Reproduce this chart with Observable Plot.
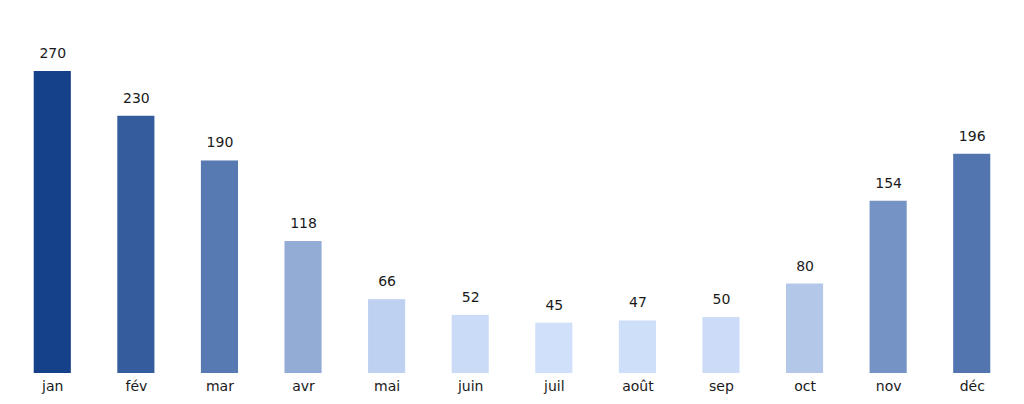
<!DOCTYPE html>
<html>
<head>
<meta charset="utf-8">
<script src="https://cdn.jsdelivr.net/npm/d3@7"></script>
<script src="https://cdn.jsdelivr.net/npm/@observablehq/plot@0.6"></script>
<style>
  html, body { margin: 0; padding: 0; background: #fff; }
  #chart svg { display: block; }
</style>
</head>
<body>
<div id="chart"></div>
<script>
const months = ["jan", "fév", "mar", "avr", "mai", "juin", "juil", "août", "sep", "oct", "nov", "déc"];
const values = [270, 230, 190, 118, 66, 52, 45, 47, 50, 80, 154, 196];

const data = months.map((m, i) => ({month: m, value: values[i]}));

const chart = Plot.plot({
  width: 1024,
  height: 404,
  marginTop: 71,
  marginBottom: 31,
  marginLeft: 17,
  marginRight: 17,
  style: {fontFamily: "DejaVu Sans", fontSize: "14px", color: "#1a1a1a", background: "#fff"},
  x: {domain: months, paddingInner: 0.556, paddingOuter: 0.2, round: false, label: null, tickSize: 0, tickPadding: 8},
  y: {domain: [0, 270], axis: null},
  color: {type: "linear", domain: [45, 270], range: ["#d0e0fa", "#14418a"], interpolate: "rgb"},
  marks: [
    Plot.barY(data, {x: "month", y: "value", fill: "value"}),
    Plot.text(data, {x: "month", y: "value", text: d => String(d.value), dy: -18, fill: "#1a1a1a", fontSize: 14})
  ]
});
document.getElementById("chart").appendChild(chart);
</script>
</body>
</html>
